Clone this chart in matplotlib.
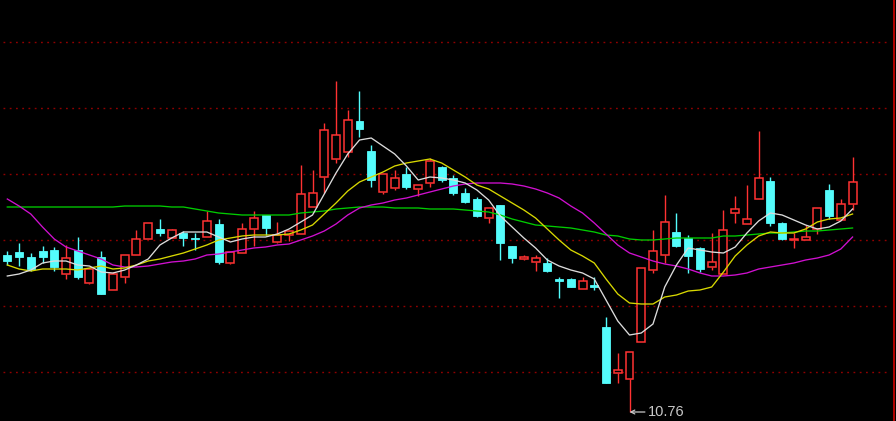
import matplotlib
matplotlib.use("Agg")
import matplotlib.pyplot as plt
import numpy as np

# ---- data (prices) ----
opens = [12.33, 12.36, 12.31, 12.37, 12.38, 12.14, 12.38, 12.05, 12.31, 11.98,
         12.11, 12.33, 12.49, 12.59, 12.50, 12.55, 12.50, 12.51, 12.64, 12.25,
         12.35, 12.59, 12.73, 12.46, 12.53, 12.54, 12.81, 13.11, 13.29, 13.36,
         13.67, 13.37, 12.96, 13.00, 13.14, 12.99, 13.05, 13.21, 13.10, 12.95,
         12.89, 12.70, 12.83, 12.42, 12.29, 12.26, 12.25, 12.09, 12.09, 11.99,
         12.03, 11.61, 11.15, 11.09, 11.46, 12.18, 12.33, 12.56, 12.50, 12.40,
         12.21, 12.14, 12.75, 12.64, 12.89, 13.07, 12.65, 12.48, 12.48, 12.59,
         12.98, 12.68, 12.84]
highs = [12.37, 12.45, 12.35, 12.42, 12.41, 12.43, 12.51, 12.19, 12.37, 12.16,
         12.33, 12.58, 12.65, 12.69, 12.59, 12.57, 12.55, 12.77, 12.69, 12.36,
         12.65, 12.77, 12.73, 12.66, 12.57, 13.23, 13.18, 13.65, 14.07, 13.78,
         13.97, 13.43, 13.14, 13.18, 13.21, 13.03, 13.30, 13.22, 13.13, 13.00,
         12.91, 12.80, 12.83, 12.42, 12.33, 12.33, 12.30, 12.11, 12.10, 12.11,
         12.11, 11.71, 11.35, 11.36, 12.20, 12.58, 12.93, 12.75, 12.53, 12.41,
         12.55, 12.78, 12.92, 13.03, 13.57, 13.11, 12.66, 12.55, 12.63, 12.80,
         13.04, 12.89, 13.31]
lows = [12.23, 12.22, 12.17, 12.25, 12.17, 12.09, 12.09, 12.04, 11.94, 11.98,
        12.05, 12.33, 12.49, 12.52, 12.50, 12.42, 12.38, 12.51, 12.24, 12.24,
        12.35, 12.42, 12.53, 12.45, 12.47, 12.54, 12.81, 12.95, 13.25, 13.31,
        13.51, 13.01, 12.94, 12.98, 12.99, 12.92, 13.01, 13.06, 12.93, 12.85,
        12.71, 12.65, 12.28, 12.25, 12.28, 12.17, 12.16, 11.90, 12.01, 11.99,
        11.98, 11.05, 11.05, 10.76, 11.46, 12.15, 12.25, 12.41, 12.15, 12.16,
        12.18, 12.14, 12.65, 12.64, 12.89, 12.62, 12.48, 12.40, 12.48, 12.54,
        12.69, 12.68, 12.78]
closes = [12.27, 12.31, 12.19, 12.31, 12.21, 12.30, 12.11, 12.19, 11.94, 12.14,
          12.33, 12.49, 12.65, 12.55, 12.58, 12.50, 12.49, 12.67, 12.26, 12.36,
          12.59, 12.70, 12.60, 12.53, 12.57, 12.94, 12.95, 13.58, 13.53, 13.68,
          13.59, 13.08, 13.14, 13.10, 13.01, 13.03, 13.27, 13.08, 12.95, 12.86,
          12.72, 12.80, 12.45, 12.30, 12.31, 12.30, 12.17, 12.07, 12.01, 12.07,
          12.01, 11.05, 11.18, 11.36, 12.20, 12.37, 12.66, 12.42, 12.32, 12.19,
          12.26, 12.58, 12.79, 12.69, 13.10, 12.65, 12.49, 12.49, 12.51, 12.80,
          12.72, 12.84, 13.06]

ma5 = [12.12, 12.14, 12.18, 12.25, 12.27, 12.27, 12.23, 12.22, 12.16, 12.15,
       12.18, 12.23, 12.29, 12.43, 12.50, 12.56, 12.56, 12.56, 12.51, 12.46,
       12.49, 12.51, 12.51, 12.54, 12.59, 12.66, 12.73, 12.94, 13.15, 13.34,
       13.48, 13.50, 13.42, 13.34, 13.22, 13.08, 13.11, 13.10, 13.08, 13.05,
       12.98, 12.88, 12.72, 12.61, 12.50, 12.40, 12.28, 12.22, 12.18, 12.15,
       12.09, 11.88, 11.67, 11.53, 11.55, 11.64, 12.01, 12.23, 12.40, 12.38,
       12.36, 12.35, 12.41, 12.55, 12.67, 12.75, 12.73, 12.68, 12.63, 12.59,
       12.61, 12.67, 12.79]
ma10 = [12.23, 12.19, 12.17, 12.19, 12.19, 12.19, 12.18, 12.20, 12.22, 12.19,
        12.20, 12.23, 12.27, 12.29, 12.32, 12.35, 12.39, 12.43, 12.48, 12.50,
        12.52, 12.53, 12.53, 12.53, 12.54, 12.58, 12.63, 12.74, 12.85, 12.97,
        13.06, 13.11, 13.16, 13.22, 13.25, 13.27, 13.29, 13.25, 13.18, 13.11,
        13.03, 12.99, 12.92, 12.85, 12.78, 12.70, 12.59, 12.48, 12.38, 12.32,
        12.25, 12.09, 11.94, 11.85, 11.84, 11.84, 11.91, 11.93, 11.97, 11.98,
        12.01, 12.16, 12.32, 12.43, 12.52, 12.56, 12.55, 12.55, 12.59, 12.66,
        12.69, 12.70, 12.74]
ma20 = [12.89, 12.82, 12.74, 12.61, 12.49, 12.41, 12.37, 12.33, 12.29, 12.23,
        12.21, 12.21, 12.22, 12.24, 12.26, 12.27, 12.29, 12.33, 12.34, 12.36,
        12.38, 12.40, 12.41, 12.43, 12.44, 12.48, 12.52, 12.57, 12.64, 12.73,
        12.80, 12.83, 12.85, 12.88, 12.90, 12.93, 12.96, 12.99, 13.02, 13.04,
        13.05, 13.05, 13.05, 13.04, 13.02, 12.99, 12.95, 12.90, 12.82, 12.75,
        12.65, 12.54, 12.43, 12.35, 12.31, 12.27, 12.24, 12.22, 12.19, 12.15,
        12.12, 12.12, 12.13, 12.15, 12.19, 12.21, 12.23, 12.25, 12.28, 12.30,
        12.33, 12.39, 12.51]
ma60 = [12.81, 12.81, 12.81, 12.81, 12.81, 12.81, 12.81, 12.81, 12.81, 12.81,
        12.82, 12.82, 12.82, 12.82, 12.81, 12.81, 12.79, 12.77, 12.75, 12.74,
        12.73, 12.73, 12.73, 12.73, 12.73, 12.75, 12.76, 12.77, 12.79, 12.80,
        12.81, 12.81, 12.81, 12.80, 12.80, 12.80, 12.79, 12.79, 12.79, 12.78,
        12.77, 12.76, 12.73, 12.69, 12.66, 12.63, 12.62, 12.61, 12.60, 12.58,
        12.56, 12.53, 12.52, 12.49, 12.48, 12.48, 12.49, 12.50, 12.50, 12.50,
        12.50, 12.52, 12.52, 12.53, 12.54, 12.55, 12.55, 12.56, 12.57, 12.57,
        12.58, 12.59, 12.60]

grid_levels = [14.46, 13.80, 13.14, 12.48, 11.82, 11.16]

# ---- styling ----
BG = "#000000"
UP = "#ff3232"
DOWN = "#54fcfc"
GRID = "#900000"
C_MA5 = "#dcdcdc"
C_MA10 = "#d8d800"
C_MA20 = "#d010d0"
C_MA60 = "#00cc00"

o = np.array(opens); h = np.array(highs); l = np.array(lows); c = np.array(closes)
x = np.arange(len(o))

fig = plt.figure(figsize=(8.96, 4.21), dpi=100, facecolor=BG)
ax = fig.add_axes([0, 0, 1, 1], facecolor=BG)
ax.set_xlim(-0.622, 75.70)
ax.set_ylim(10.67, 14.88)
ax.axis("off")

# grid lines
ax.hlines(grid_levels, -0.37, 75.19, colors=GRID, linewidth=1.0,
          linestyles=[(0, (1.3, 3.2))], zorder=1)
ax.axvline(75.57, color="#c00000", linewidth=1.3, zorder=1)

up = c >= o
w = 0.68
# down candles (filled cyan)
d = ~up
ax.vlines(x[d], l[d], h[d], colors=DOWN, linewidth=1.0, zorder=2)
ax.bar(x[d], np.maximum(o[d] - c[d], 0.005), bottom=c[d], width=w,
       color=DOWN, edgecolor=DOWN, linewidth=0.6, zorder=3)
# up candles (hollow red)
ax.vlines(x[up], c[up], h[up], colors=UP, linewidth=1.0, zorder=2)
ax.vlines(x[up], l[up], o[up], colors=UP, linewidth=1.0, zorder=2)
ax.bar(x[up], np.maximum(c[up] - o[up], 0.005), bottom=o[up], width=w,
       color=BG, edgecolor=UP, linewidth=1.1, zorder=3)

# moving averages
ax.plot(x, ma60, color=C_MA60, linewidth=0.95, zorder=4)
ax.plot(x, ma20, color=C_MA20, linewidth=0.95, zorder=4)
ax.plot(x, ma10, color=C_MA10, linewidth=0.95, zorder=4)
ax.plot(x, ma5, color=C_MA5, linewidth=0.95, zorder=4)

# low annotation
i_low = int(np.argmin(l))
ax.annotate(f"{l[i_low]:.2f}", xy=(i_low, l[i_low]),
            xytext=(i_low + 1.55, l[i_low]), color="#c8c8c8",
            fontsize=10.5, family=["Liberation Sans", "DejaVu Sans"],
            va="center", ha="left",
            arrowprops=dict(arrowstyle="->", color="#c8c8c8", lw=0.9,
                            shrinkA=0, shrinkB=0, mutation_scale=7),
            zorder=5)

fig.savefig("out.png", dpi=100, facecolor=BG)
